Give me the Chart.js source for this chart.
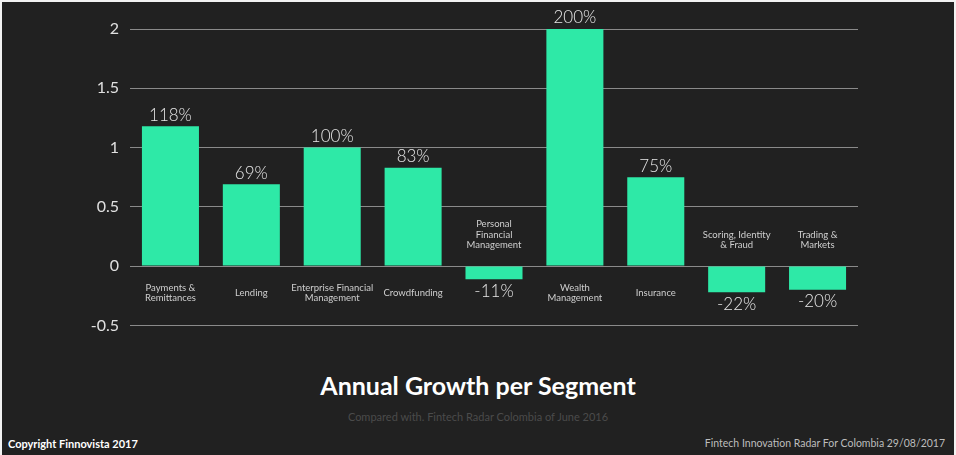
<!DOCTYPE html>
<html>
<head>
<meta charset="utf-8">
<script src="https://cdn.jsdelivr.net/npm/chart.js@4.4.1/dist/chart.umd.min.js"></script>
<style>
    html, body { margin: 0; padding: 0; background: #f2f2f2; }
    #frame {
        position: absolute; left: 2px; top: 2px; width: 952px; height: 453px;
        background: #212121; overflow: hidden; font-family: Lato, sans-serif;
    }
    #chartBox { position: absolute; left: 0; top: 0; width: 952px; height: 344px; }
    .title {
        position: absolute; left: 0; width: 952px; top: 368px; text-align: center;
        color: #fff; font-weight: 700; font-size: 25px;
    }
    .subtitle {
        position: absolute; left: 0; width: 952px; top: 408px; text-align: center;
        color: #4b4b4b; font-size: 11px;
    }
    .copyright { position: absolute; left: 6px; top: 435px; color: #fff; font-weight: 700; font-size: 11px; }
    .source { position: absolute; right: 9px; top: 435px; color: #bdbdbd; font-size: 10.5px; }
</style>
</head>
<body>
<div id="frame">
    <div id="chartBox"><canvas id="growthChart"></canvas></div>
    <div class="title">Annual Growth per Segment</div>
    <div class="subtitle">Compared with. Fintech Radar Colombia of June 2016</div>
    <div class="copyright">Copyright Finnovista 2017</div>
    <div class="source">Fintech Innovation Radar For Colombia 29/08/2017</div>
</div>
<script>
// Segments and their growth versus June 2016 (1 = 100%)
const segments = [
    ['Payments &', 'Remittances'],
    ['Lending'],
    ['Enterprise Financial', 'Management'],
    ['Crowdfunding'],
    ['Personal', 'Financial', 'Management'],
    ['Wealth', 'Management'],
    ['Insurance'],
    ['Scoring, Identity', '& Fraud'],
    ['Trading &', 'Markets']
];
const growth = [1.18, 0.69, 1.00, 0.83, -0.11, 2.00, 0.75, -0.22, -0.20];
const yTicks = [2, 1.5, 1, 0.5, 0, -0.5];

const barColor = '#2ee9a7';

// Draws segment names next to the zero line and percentages at the bar ends
const barLabels = {
    id: 'barLabels',
    afterDatasetsDraw(chart) {
        const ctx = chart.ctx;
        const y = chart.scales.y;
        const zero = y.getPixelForValue(0);
        const meta = chart.getDatasetMeta(0);
        ctx.save();
        ctx.textAlign = 'center';
        ctx.textBaseline = 'middle';
        meta.data.forEach((bar, i) => {
            const v = growth[i];
            const lines = segments[i];
            const lh = 10.5;
            ctx.fillStyle = '#cfcfcf';
            ctx.font = '9.5px Lato, sans-serif';
            if (v >= 0) {
                const start = zero + 27 - (lines.length - 1) * lh / 2;
                lines.forEach((t, k) => ctx.fillText(t, bar.x, start + k * lh));
            } else {
                const last = zero - 21;
                lines.forEach((t, k) => ctx.fillText(t, bar.x, last - (lines.length - 1 - k) * lh));
            }
            ctx.fillStyle = '#e6e6e6';
            ctx.font = '300 17px Lato, sans-serif';
            const txt = Math.round(v * 100) + '%';
            if (v >= 0) {
                ctx.fillText(txt, bar.x, y.getPixelForValue(v) - 11);
            } else {
                ctx.fillText(txt, bar.x, y.getPixelForValue(v) + 12);
            }
        });
        ctx.restore();
    }
};

new Chart(document.getElementById('growthChart'), {
    type: 'bar',
    data: {
        labels: segments,
        datasets: [{
            data: growth,
            backgroundColor: barColor,
            borderWidth: 0,
            barPercentage: 0.705,
            categoryPercentage: 1
        }]
    },
    options: {
        responsive: true,
        maintainAspectRatio: false,
        animation: false,
        layout: { padding: { top: 27, right: 96, bottom: 13, left: 0 } },
        plugins: {
            legend: { display: false },
            tooltip: { enabled: false }
        },
        scales: {
            x: { display: false },
            y: {
                min: -0.5,
                max: 2,
                afterFit: (scale) => { scale.width = 128; },
                afterBuildTicks: (scale) => { scale.ticks = yTicks.map(v => ({ value: v })); },
                grid: { color: '#8a8a8a', lineWidth: 1, drawTicks: false },
                border: { display: false },
                ticks: {
                    color: '#e0e0e0',
                    padding: 11,
                    font: { family: 'Lato, sans-serif', size: 16 },
                    callback: (v) => String(v)
                }
            }
        }
    },
    plugins: [barLabels]
});
</script>
</body>
</html>
